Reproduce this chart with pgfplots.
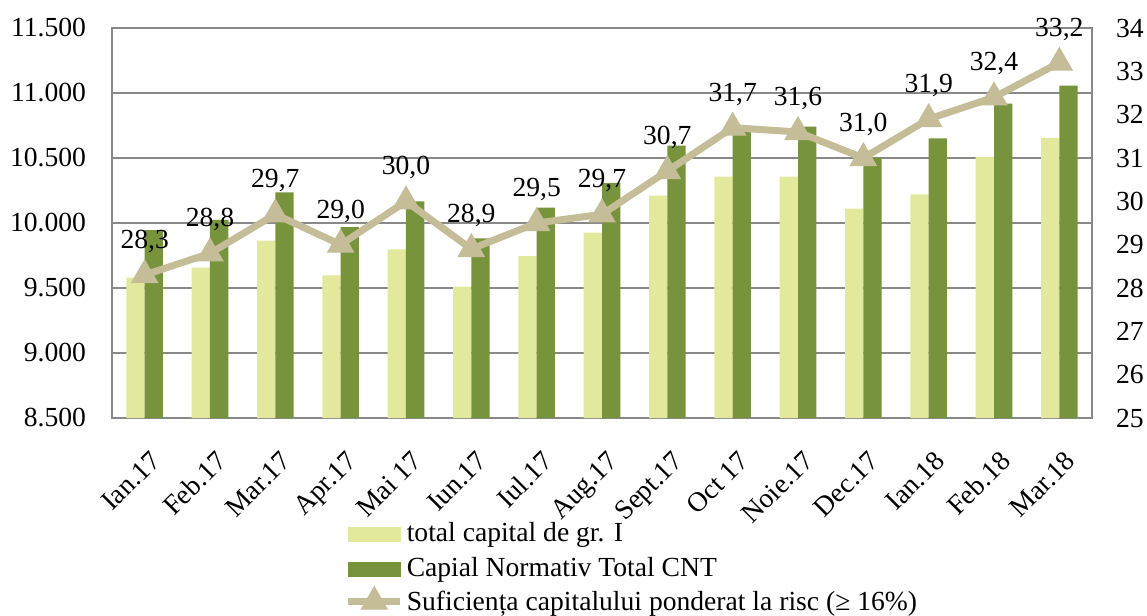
\documentclass[border=0pt]{standalone}
\usepackage{fontspec}
\setmainfont{Liberation Serif}
\usepackage{pgfplots}
\pgfplotsset{compat=1.18}
\definecolor{lightg}{HTML}{E3E99C}
\definecolor{darkg}{HTML}{77933C}
\definecolor{tanl}{HTML}{C4BD97}
\definecolor{gridg}{HTML}{898989}
\newcommand{\cf}{\fontsize{13.8}{16}\selectfont}
\begin{document}
\begin{tikzpicture}
\begin{axis}[
  scale only axis, width=490pt, height=195pt,
  xmin=-0.5, xmax=14.5, ymin=8500, ymax=11500,
  ytick={8500,9000,...,11500},
  scaled y ticks=false,
  yticklabel style={font=\cf, xshift=-9.5pt, /pgf/number format/.cd, fixed, 1000 sep={.}, assume math mode=true},
  xtick={0,...,14},
  xticklabels={Ian.17,Feb.17,Mar.17,Apr.17,Mai 17,Iun.17,Iul.17,Aug.17,Sept.17,Oct 17,Noie.17,Dec.17,Ian.18,Feb.18,Mar.18},
  xticklabel style={font=\cf, rotate=45, anchor=north east, inner sep=0pt, xshift=-9.5pt, yshift=-12.5pt},
  ymajorgrids, grid style={gridg, line width=1pt},
  axis line style={gridg, line width=1pt},
  major tick length=0pt,
  ybar, bar width=0.28,
]
\addplot[fill=lightg, draw=none, bar shift=-0.14] coordinates {
(0,9579) (1,9656) (2,9864) (3,9598) (4,9798) (5,9510) (6,9746) (7,9926)
(8,10210) (9,10356) (10,10356) (11,10110) (12,10221) (13,10508) (14,10654)};
\addplot[fill=darkg, draw=none, bar shift=0.14] coordinates {
(0,9946) (1,10025) (2,10236) (3,9969) (4,10167) (5,9882) (6,10118) (7,10308)
(8,10595) (9,10700) (10,10741) (11,10502) (12,10651) (13,10918) (14,11056)};
\end{axis}
\begin{axis}[
  scale only axis, width=490pt, height=195pt,
  xmin=-0.5, xmax=14.5, ymin=25, ymax=34,
  ytick={25,...,34},
  axis y line*=right, axis x line=none,
  axis line style={gridg, line width=1pt},
  major tick length=0pt,
  yticklabel style={font=\cf, xshift=8.5pt, /pgf/number format/assume math mode=true},
  legend style={draw=none, fill=none, at={(axis description cs:0.231,-0.243)}, anchor=north west,
    font=\cf, row sep=0pt, nodes={inner sep=1.5pt, text depth=3.6pt, text height=10.7pt}},
  legend cell align=left,
]
\addlegendimage{legend image code/.code={\fill[lightg] (0pt,-3.5pt) rectangle (26pt,3.5pt);}}
\addlegendentry{total capital de gr. I}
\addlegendimage{legend image code/.code={\fill[darkg] (0pt,-3.5pt) rectangle (26pt,3.5pt);}}
\addlegendentry{Capial Normativ Total CNT}
\addlegendimage{legend image code/.code={\draw[tanl, line width=3.5pt, mark=triangle*, mark size=7.5pt, mark options={fill=tanl, draw=tanl, line width=0.5pt}, mark repeat=2, mark phase=2] plot coordinates {(0pt,1pt) (13pt,1pt) (26pt,1pt)};}}
\addlegendentry{Suficiența capitalului ponderat la risc (≥ 16\%)}
\addplot[forget plot, tanl, line width=3.5pt, mark=triangle*, mark size=7.5pt, mark options={fill=tanl, draw=tanl, line width=0.5pt},
  nodes near coords, point meta=y,
  every node near coord/.append style={font=\cf, color=black, anchor=south, yshift=7.5pt,
    /pgf/number format/.cd, fixed, zerofill, precision=1, use comma, assume math mode=true}
] coordinates {
(0,28.3) (1,28.8) (2,29.7) (3,29.0) (4,30.0) (5,28.9) (6,29.5) (7,29.7)
(8,30.7) (9,31.7) (10,31.6) (11,31.0) (12,31.9) (13,32.4) (14,33.2)};
\end{axis}
\pgfresetboundingbox
\useasboundingbox (-56pt,-99pt) rectangle (517.5pt,209pt);
\end{tikzpicture}
\end{document}
